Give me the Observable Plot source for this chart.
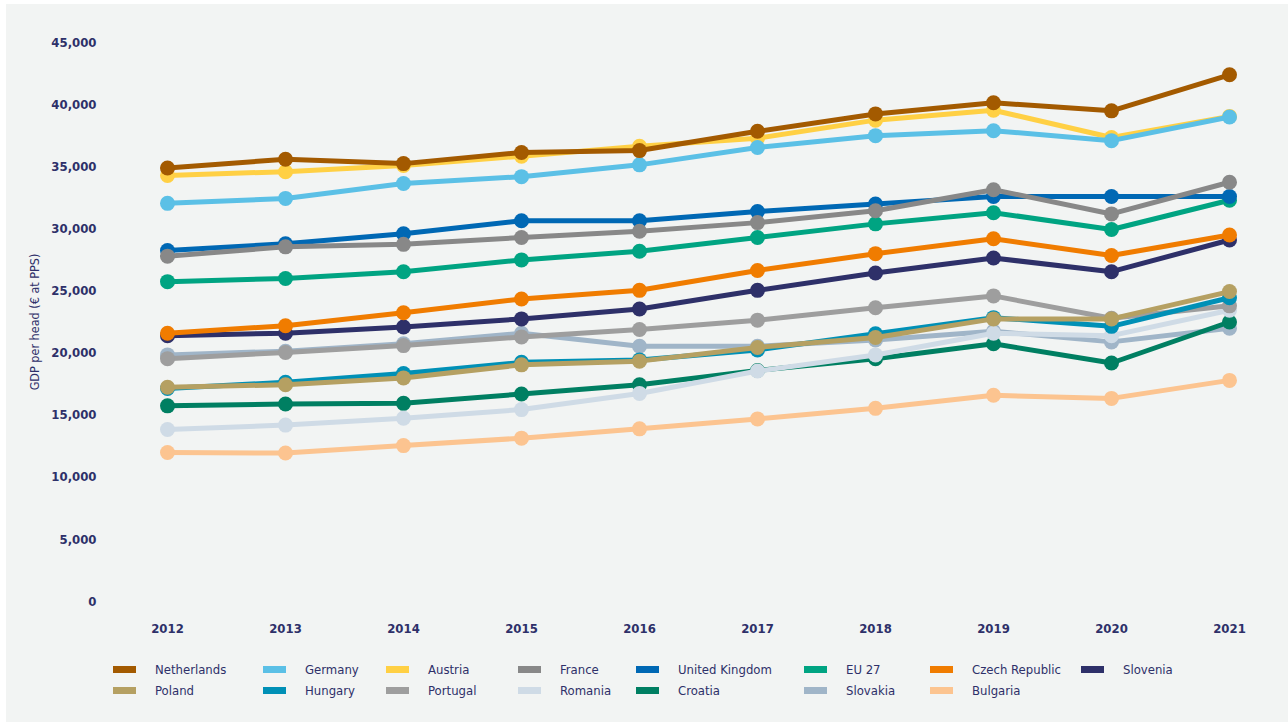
<!DOCTYPE html>
<html>
<head>
<meta charset="utf-8">
<script src="https://cdn.jsdelivr.net/npm/d3@7"></script>
<script src="https://cdn.jsdelivr.net/npm/@observablehq/plot@0.6"></script>
<style>
  body { margin: 0; background: #ffffff; font-family: "DejaVu Sans Condensed", "DejaVu Sans", sans-serif; font-stretch: condensed; }
  #panel { position: absolute; left: 6px; top: 4px; width: 1282px; height: 718px; background: #f2f4f3; }
  #chart { position: absolute; left: 0; top: 0; }
  #chart svg, #chart text { font-stretch: condensed; }
  #legend { position: absolute; left: 113px; top: 661px; display: grid;
            grid-template-columns: 150px 123px 132px 118px 168px 126px 151px 110px; row-gap: 4px; }
  .item { display: flex; align-items: center; height: 17px; font-size: 13px; color: #2e3069; white-space: nowrap; }
  .sw { width: 23px; height: 7px; margin-right: 19px; flex: none; }
</style>
</head>
<body>
<div id="panel"></div>
<div id="chart"></div>
<div id="legend"></div>
<script>
// GDP per head (€ at PPS), 2012–2021
const years = [2012, 2013, 2014, 2015, 2016, 2017, 2018, 2019, 2020, 2021];

const countries = ["Netherlands", "Germany", "Austria", "France", "United Kingdom", "EU 27", "Czech Republic", "Slovenia",
                   "Poland", "Hungary", "Portugal", "Romania", "Croatia", "Slovakia", "Bulgaria"];
const colors = ["#a35a00", "#5bc0e6", "#ffd044", "#888888", "#0068b4", "#00a482", "#f07c00", "#2e3069",
                "#b5a062", "#0090b6", "#9e9e9e", "#cfdbe6", "#007f62", "#a0b5c8", "#fcc490"];

const netherlands   = [34900, 35600, 35250, 36150, 36300, 37850, 39250, 40150, 39500, 42400];
const germany       = [32050, 32450, 33650, 34200, 35150, 36550, 37500, 37900, 37100, 39000];
const austria       = [34300, 34600, 35100, 35850, 36650, 37300, 38750, 39550, 37350, 39050];
const france        = [27800, 28550, 28750, 29300, 29800, 30500, 31450, 33150, 31200, 33750];
const unitedKingdom = [28250, 28800, 29600, 30650, 30650, 31400, 32000, 32600, 32600, 32600];
const eu27          = [25750, 26000, 26550, 27500, 28200, 29300, 30400, 31300, 29950, 32300];
const czechRepublic = [21600, 22200, 23250, 24350, 25050, 26650, 28000, 29200, 27850, 29500];
const slovenia      = [21400, 21600, 22100, 22750, 23550, 25050, 26450, 27650, 26550, 29100];
const poland        = [17250, 17450, 18000, 19050, 19350, 20450, 21250, 22750, 22750, 24950];
const hungary       = [17150, 17650, 18350, 19250, 19450, 20250, 21550, 22850, 22150, 24450];
const portugal      = [19550, 20050, 20600, 21300, 21900, 22650, 23650, 24600, 22800, 23800];
const romania       = [13850, 14200, 14750, 15450, 16750, 18550, 19850, 21600, 21400, 23450];
const croatia       = [15750, 15900, 15950, 16700, 17450, 18600, 19550, 20750, 19200, 22500];
const slovakia      = [19850, 20150, 20750, 21600, 20550, 20550, 21050, 21750, 20900, 22000];
const bulgaria      = [12000, 11950, 12550, 13150, 13900, 14700, 15550, 16600, 16350, 17800];

const seriesValues = [netherlands, germany, austria, france, unitedKingdom, eu27, czechRepublic, slovenia,
                      poland, hungary, portugal, romania, croatia, slovakia, bulgaria];

const yTicks = [0, 5000, 10000, 15000, 20000, 25000, 30000, 35000, 40000, 45000];

// tidy rows: one per country and year
const rows = countries.flatMap((c, i) => years.map((yr, j) => ({country: c, year: yr, value: seriesValues[i][j]})));

const fontFamily = '"DejaVu Sans Condensed", "DejaVu Sans", sans-serif';
const ink = "#2e3069";

// the first country in the list is drawn last, so it sits on top
const seriesMarks = countries.slice().reverse().flatMap((c) => {
  const data = rows.filter((d) => d.country === c);
  return [
    Plot.line(data, {x: "year", y: "value", stroke: "country", strokeWidth: 5, curve: "linear"}),
    Plot.dot(data, {x: "year", y: "value", fill: "country", r: 7.5, stroke: "none"})
  ];
});

const chart = Plot.plot({
  width: 1288,
  height: 650,
  marginLeft: 108,
  marginRight: 0,
  marginTop: 42,
  marginBottom: 49,
  style: {background: "transparent", color: ink, fontFamily, fontSize: "13px", overflow: "visible"},
  x: {type: "point", domain: years, padding: 0.5},
  y: {domain: [0, 45000]},
  color: {domain: countries, range: colors},
  marks: [
    Plot.gridY(yTicks, {stroke: "#e3e6e6", strokeOpacity: 1, strokeWidth: 2.5, x1: 105, x2: 1288}),
    Plot.axisX({tickSize: 0, tickPadding: 22, label: null, tickFormat: "d", fontWeight: 600}),
    Plot.axisY(yTicks, {tickSize: 0, tickPadding: 12, tickFormat: d3.format(","), fontWeight: 600, label: null}),
    Plot.axisY({label: "GDP per head (€ at PPS)", labelAnchor: "center", labelArrow: "none", labelOffset: 78,
                tickSize: 0, tickFormat: () => "", fontWeight: 400, fontSize: 12.5}),
    ...seriesMarks
  ]
});
document.getElementById("chart").append(chart);

// legend laid out in rows of eight
const legend = document.getElementById("legend");
countries.forEach((c, i) => {
  const item = document.createElement("div");
  item.className = "item";
  const sw = document.createElement("span");
  sw.className = "sw";
  sw.style.background = colors[i];
  const label = document.createElement("span");
  label.textContent = c;
  item.append(sw, label);
  legend.append(item);
});
</script>
</body>
</html>
